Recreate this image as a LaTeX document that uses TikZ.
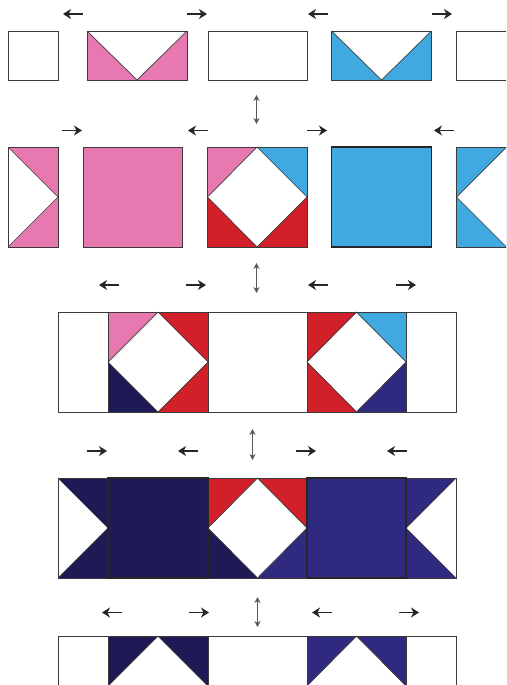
\documentclass[tikz,border=0pt]{standalone}
\usepackage{tikz}
\usetikzlibrary{arrows.meta, positioning}

\definecolor{quiltpink}{HTML}{E779B0}
\definecolor{quiltblue}{HTML}{40A9E0}
\definecolor{quiltred}{HTML}{D1202A}
\definecolor{quiltnavy}{HTML}{1E1A56}
\definecolor{quiltindigo}{HTML}{2F2A7F}
\definecolor{seamgray}{HTML}{3A3A3A}

\tikzset{
    patch/.style={draw=seamgray, line width=0.7pt},
    boldpatch/.style={draw=black!85, line width=1.1pt},
    pressarrow/.style={-{Stealth[length=8pt,width=10pt,inset=2.5pt]}, line width=1.2pt, draw=black!85},
    seamarrow/.style={{Stealth[length=6pt,width=6pt]}-{Stealth[length=6pt,width=6pt]}, line width=0.8pt, draw=black!65}
}

\begin{document}
\begin{tikzpicture}[x=1pt, y=-1pt]

    \clip (0,0) rectangle (506,685);

    % Row 1: white pieces and flying geese
    \draw[patch] (8,31) rectangle (58,80);
    \fill[quiltpink] (87,31) rectangle (187,80);
    \fill[white] (87,31) -- (137,80) -- (187,31) -- cycle;
    \draw[patch] (87,31) rectangle (187,80);
    \draw[patch] (87,31) -- (137,80) -- (187,31);
    \draw[patch] (208,31) rectangle (307,80);
    \fill[quiltblue] (331.5,31) rectangle (431.5,80);
    \fill[white] (331.5,31) -- (381.5,80) -- (431.5,31) -- cycle;
    \draw[patch] (331.5,31) rectangle (431.5,80);
    \draw[patch] (331.5,31) -- (381.5,80) -- (431.5,31);
    \draw[patch] (456.5,31) rectangle (520,80);

    % Pressing arrows above row 1
    \draw[pressarrow] (83,14) -- (63,14);
    \draw[pressarrow] (187,14) -- (207,14);
    \draw[pressarrow] (328,14) -- (308,14);
    \draw[pressarrow] (432,14) -- (452,14);
    \draw[seamarrow] (256.5,95) -- (256.5,124);

    % Row 2: side units, plain squares and square in a square
    \fill[quiltpink] (8,147) rectangle (58,247);
    \fill[white] (8,147) -- (58,197) -- (8,247) -- cycle;
    \draw[patch] (8,147) rectangle (58,247);
    \draw[patch] (8,147) -- (58,197) -- (8,247);
    \fill[quiltpink] (83,147) rectangle (182.5,247);
    \draw[patch] (83,147) rectangle (182.5,247);
    \fill[quiltpink] (207.5,147) -- (257,147) -- (207.5,197) -- cycle;
    \fill[quiltblue] (257,147) -- (307,147) -- (307,197) -- cycle;
    \fill[quiltred] (207.5,197) -- (207.5,247) -- (257,247) -- cycle;
    \fill[quiltred] (307,197) -- (307,247) -- (257,247) -- cycle;
    \draw[patch] (257,147) -- (307,197) -- (257,247) -- (207.5,197) -- cycle;
    \draw[patch] (207.5,147) rectangle (307,247);
    \fill[quiltblue] (331.5,147) rectangle (431.5,247);
    \draw[boldpatch] (331.5,147) rectangle (431.5,247);
    \fill[quiltblue] (456.5,147) rectangle (506.5,247);
    \fill[white] (506.5,147) -- (456.5,197) -- (506.5,247) -- cycle;
    \draw[patch] (506.5,147) -- (456.5,147) -- (456.5,247) -- (506.5,247);
    \draw[patch] (506.5,147) -- (456.5,197) -- (506.5,247);

    % Pressing arrows above row 2
    \draw[pressarrow] (62,130.5) -- (82,130.5);
    \draw[pressarrow] (208,130.5) -- (188,130.5);
    \draw[pressarrow] (307,130.5) -- (327,130.5);
    \draw[pressarrow] (454,130.5) -- (434,130.5);
    \draw[seamarrow] (256.5,263) -- (256.5,293);

    % Pressing arrows above row 3
    \draw[pressarrow] (119,285) -- (99,285);
    \draw[pressarrow] (186,285) -- (206,285);
    \draw[pressarrow] (328,285) -- (308,285);
    \draw[pressarrow] (396,285) -- (416,285);

    % Row 3
    \fill[quiltpink] (108,312) -- (158,312) -- (108,362) -- cycle;
    \fill[quiltred] (158,312) -- (208,312) -- (208,362) -- cycle;
    \fill[quiltnavy] (108,362) -- (108,412) -- (158,412) -- cycle;
    \fill[quiltred] (208,362) -- (208,412) -- (158,412) -- cycle;
    \draw[patch] (158,312) -- (208,362) -- (158,412) -- (108,362) -- cycle;
    \fill[quiltred] (307,312) -- (356.5,312) -- (307,362) -- cycle;
    \fill[quiltblue] (356.5,312) -- (406,312) -- (406,362) -- cycle;
    \fill[quiltred] (307,362) -- (307,412) -- (356.5,412) -- cycle;
    \fill[quiltindigo] (406,362) -- (406,412) -- (356.5,412) -- cycle;
    \draw[patch] (356.5,312) -- (406,362) -- (356.5,412) -- (307,362) -- cycle;
    \draw[patch] (58,312) rectangle (456,412);
    \draw[patch] (108,312) -- (108,412);
    \draw[patch] (208,312) -- (208,412);
    \draw[patch] (307,312) -- (307,412);
    \draw[patch] (406,312) -- (406,412);

    % Pressing arrows above row 4
    \draw[pressarrow] (87,451) -- (107,451);
    \draw[pressarrow] (198,451) -- (178,451);
    \draw[pressarrow] (296,451) -- (316,451);
    \draw[pressarrow] (407,451) -- (387,451);
    \draw[seamarrow] (252.5,429) -- (252.5,460);

    % Row 4
    \fill[quiltnavy] (58,478) rectangle (208,578);
    \fill[white] (58,478) -- (108,528) -- (58,578) -- cycle;
    \draw[patch] (58,478) -- (108,528) -- (58,578);
    \fill[quiltred] (208,478) rectangle (307,528);
    \fill[quiltnavy] (208,528) -- (208,578) -- (257.5,578) -- cycle;
    \fill[quiltindigo] (307,528) -- (307,578) -- (257.5,578) -- cycle;
    \fill[white] (257.5,478) -- (307,528) -- (257.5,578) -- (208,528) -- cycle;
    \draw[patch] (257.5,478) -- (307,528) -- (257.5,578) -- (208,528) -- cycle;
    \fill[quiltindigo] (307,478) rectangle (456,578);
    \fill[white] (456,478) -- (406,528) -- (456,578) -- cycle;
    \draw[patch] (456,478) -- (406,528) -- (456,578);
    \draw[patch] (58,478) rectangle (456,578);
    \draw[boldpatch] (108,478) rectangle (208,578);
    \draw[boldpatch] (307,478) rectangle (406,578);

    % Pressing arrows above row 5
    \draw[pressarrow] (122,612.5) -- (102,612.5);
    \draw[pressarrow] (189,612.5) -- (209,612.5);
    \draw[pressarrow] (332,612.5) -- (312,612.5);
    \draw[pressarrow] (399,612.5) -- (419,612.5);
    \draw[seamarrow] (257.5,597) -- (257.5,627);

    % Row 5: flying geese pointing up
    \fill[quiltnavy] (108,636) rectangle (208,686);
    \fill[white] (108,686) -- (158,636) -- (208,686) -- cycle;
    \draw[patch] (108,686) -- (158,636) -- (208,686);
    \fill[quiltindigo] (307,636) rectangle (406,686);
    \fill[white] (307,686) -- (356.5,636) -- (406,686) -- cycle;
    \draw[patch] (307,686) -- (356.5,636) -- (406,686);
    \draw[patch] (58,690) -- (58,636) -- (456,636) -- (456,690);
    \draw[patch] (108,636) -- (108,690);
    \draw[patch] (208,636) -- (208,690);
    \draw[patch] (307,636) -- (307,690);
    \draw[patch] (406,636) -- (406,690);

\end{tikzpicture}
\end{document}
